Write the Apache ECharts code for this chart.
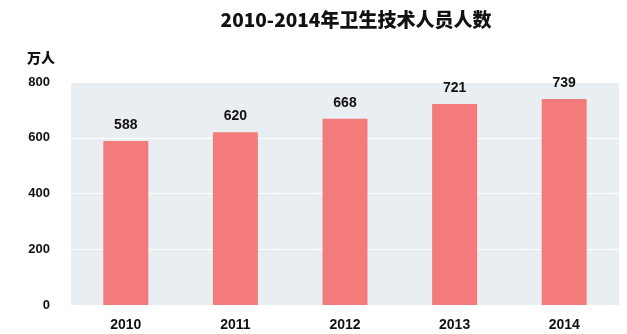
<!DOCTYPE html>
<html><head><meta charset="utf-8">
<script src="https://cdn.jsdelivr.net/npm/echarts@6/dist/echarts.min.js"></script>
<style>html,body{margin:0;padding:0;background:#fff}#c{width:627px;height:334px}</style>
</head><body><div id="c"></div>
<script>
var titleText = '2010-2014年卫生技术人员人数';
var unitText = '万人';
var categories = ['2010','2011','2012','2013','2014'];
var values = [588, 620, 668, 721, 739];
var yTicks = [0, 200, 400, 600, 800];

var chart = echarts.init(document.getElementById('c'), null, {renderer:'canvas'});
var font = '"Liberation Sans", "Noto Sans CJK SC", sans-serif';
chart.setOption({
  backgroundColor:'#ffffff',
  animation:false,
  title:{text:titleText,left:351,top:5,textAlign:'center',
    textStyle:{fontSize:19,fontWeight:900,color:'#111',fontFamily:'"Noto Sans CJK SC", sans-serif'}},
  grid:{left:71,right:8,top:82,bottom:29,show:true,backgroundColor:'#e8eef1',borderWidth:0},
  xAxis:{type:'category',data:categories,
    axisLine:{show:false},axisTick:{show:false},
    axisLabel:{margin:13,fontSize:14,fontWeight:'bold',color:'#111',fontFamily:font}},
  yAxis:{type:'value',min:yTicks[0],max:yTicks[yTicks.length-1],interval:200,
    name:unitText,nameLocation:'end',nameGap:17,
    nameTextStyle:{align:'right',padding:[0,16,0,0],fontSize:14,fontWeight:900,color:'#111',fontFamily:'"Noto Sans CJK SC", sans-serif'},
    axisLine:{show:false},axisTick:{show:false},
    splitLine:{lineStyle:{color:'#ffffff',width:1}},
    axisLabel:{margin:21,fontSize:13,fontWeight:'bold',color:'#111',fontFamily:font}},
  series:[{type:'bar',data:values,barWidth:45,
    itemStyle:{color:'#f47b7b'},
    label:{show:true,position:'top',distance:9,fontSize:14,fontWeight:'bold',color:'#111',fontFamily:font}}]
});
</script></body></html>
